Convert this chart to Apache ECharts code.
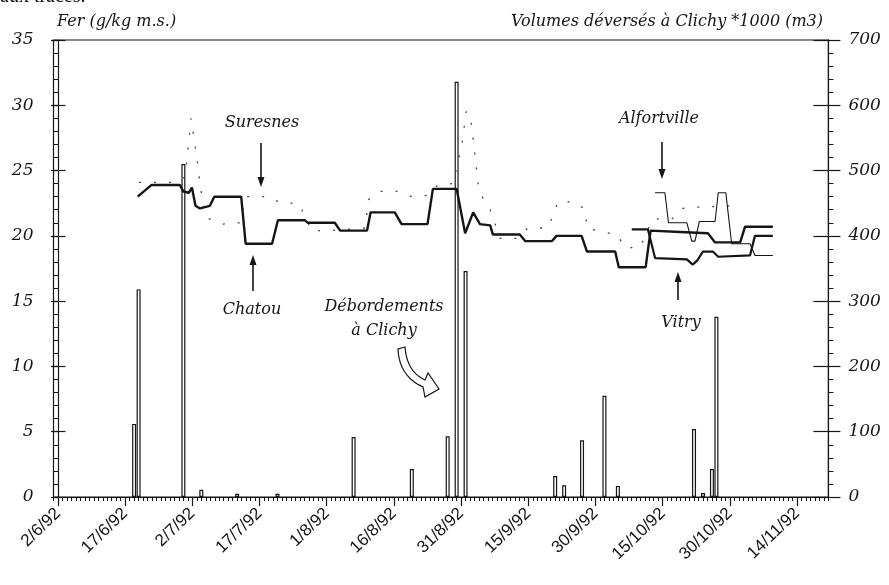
<!DOCTYPE html>
<html><head><meta charset="utf-8">
<script src="https://cdn.jsdelivr.net/npm/echarts@6/dist/echarts.min.js"></script>
<style>html,body{margin:0;padding:0;background:#fff}#c{width:889px;height:585px}</style>
</head><body><div id="c"></div><script>
// x values = days counted from 2/6/92
const dayMin = -1, dayMax = 172;
const tickLabels = ['2/6/92','17/6/92','2/7/92','17/7/92','1/8/92','16/8/92','31/8/92','15/9/92','30/9/92','15/10/92','30/10/92','14/11/92'];
const tickStep = 15;

// Volumes déversés à Clichy (*1000 m3)
const barDays    = [17, 18, 28, 32, 40, 49, 66, 79, 87, 89, 91, 111, 113, 117, 122, 125, 142, 144, 146, 147];
const barVolumes = [112,318,510, 11,  5,  5, 92, 43, 93,636,346,  32,  18,  87, 155,  17, 104,   6,  43, 276];

// Fer (g/kg m.s.)
const chatouDays = [17.8,20.9,27.2,28.0,29.2,29.9,30.7,31.7,33.9,34.9,40.9,41.9,47.8,49.1,55.1,55.8,61.8,63.0,69.0,69.8,75.2,76.7,82.5,83.7,89.0,90.9,92.7,94.2,96.5,97.1,103.1,104.3,110.3,111.3,116.9,118.1,124.4,125.2,131.2,132.3,138.9,145.1,146.7,152.3,153.4,159.6];
const chatouFer  = [23.0,23.9,23.9,23.4,23.3,23.7,22.3,22.1,22.3,23.0,23.0,19.4,19.4,21.2,21.2,21.0,21.0,20.4,20.4,21.8,21.8,20.9,20.9,23.6,23.6,20.2,21.8,20.9,20.8,20.1,20.1,19.6,19.6,20.0,20.0,18.8,18.8,17.6,17.6,20.4,20.3,20.2,19.5,19.5,20.7,20.7];

const vitryDays = [128.1,131.7,133.3,140.4,141.7,142.7,144.0,146.2,147.4,154.5,155.6,159.6];
const vitryFer  = [20.5,20.5,18.3,18.2,17.8,18.1,18.8,18.8,18.4,18.5,20.0,20.0];

const alfortDays = [133.3,135.5,136.3,140.4,141.5,142.2,143.2,146.7,147.4,149.1,150.4,154.5,155.6,159.6];
const alfortFer  = [23.3,23.3,21.0,21.0,19.6,19.6,21.1,21.1,23.3,23.3,19.4,19.4,18.5,18.5];

const suresnesDays = [18.1,26.1,28.4,29.7,31.0,31.9,33.0,36.8,40.6,42.0,47.1,49.8,53.6,55.4,56.5,60.3,68.5,69.4,71.9,75.7,79.0,82.6,84.8,88.2,90.2,91.1,92.0,92.9,93.8,94.7,96.4,98.7,102.5,104.9,109.2,110.5,111.6,115.4,117.7,118.1,121.5,124.8,126.6,129.9,132.8,137.1,139.3,142.7,150.5];
const suresnesFer  = [24.1,24.1,24.5,29.0,26.0,23.5,21.4,20.9,21.0,23.0,23.0,22.5,22.5,21.4,20.4,20.4,20.6,22.8,23.4,23.4,23.0,23.1,23.9,24.0,27.0,29.5,29.4,26.8,24.0,23.0,22.1,19.8,19.8,20.6,20.6,21.5,22.6,22.6,22.0,20.6,20.3,20.1,19.1,19.1,21.3,21.3,22.1,22.2,22.3];

const zip = (a, b) => a.map((v, i) => [v, b[i]]);
const cats = [];
for (let d = dayMin; d <= dayMax; d++) cats.push(String(d));
const isMajor = (i) => { const d = i + dayMin; return d >= 0 && d % tickStep === 0 && d / tickStep < tickLabels.length; };

const INK = '#151515';
const serif = '"DejaVu Serif"';
const axisLineStyle = { color: INK, width: 1.2 };

const chart = echarts.init(document.getElementById('c'), null, { renderer: 'canvas' });

function arrow(x, y1, y2) { // from y1 to tip y2
  const dir = y2 > y1 ? 1 : -1;
  return [
    { type: 'line', shape: { x1: x, y1: y1, x2: x, y2: y2 - dir * 8 }, style: { stroke: INK, lineWidth: 1.6 } },
    { type: 'polygon', shape: { points: [[x - 3.5, y2 - dir * 10], [x + 3.5, y2 - dir * 10], [x, y2]] }, style: { fill: INK } }
  ];
}
function label(text, x, y, size) {
  return { type: 'text', x: x, y: y, style: { text: text, font: 'italic ' + (size || 16) + 'px ' + serif, fill: INK, align: 'center', verticalAlign: 'middle', textAlign: 'center', textVerticalAlign: 'middle' } };
}
// hollow curved arrow outline (annotation)
function quad(p0, p1, p2, n) {
  const pts = [];
  for (let k = 0; k <= n; k++) {
    const t = k / n, u = 1 - t;
    pts.push([u * u * p0[0] + 2 * u * t * p1[0] + t * t * p2[0], u * u * p0[1] + 2 * u * t * p1[1] + t * t * p2[1]]);
  }
  return pts;
}
const curvedArrowPts = [
  ...quad([398, 349], [399, 376], [423, 387], 10),
  [425, 397], [439, 389], [428, 373],
  ...quad([425, 380], [407, 372], [405, 347], 10)
];

chart.setOption({
  animation: false,
  backgroundColor: '#fff',
  grid: { left: 53.5, right: 60.6, top: 40, bottom: 88, show: true, borderColor: INK, borderWidth: 1.2, backgroundColor: 'transparent' },
  xAxis: [
    { type: 'value', min: dayMin, max: dayMax, show: false },
    { type: 'category', data: cats, boundaryGap: false, position: 'bottom',
      axisLine: { show: true, lineStyle: axisLineStyle },
      axisTick: { show: true, interval: 0, length: 4, lineStyle: { color: INK, width: 1 } },
      axisLabel: { show: false }, splitLine: { show: false } },
    { type: 'category', data: cats, boundaryGap: false, position: 'bottom',
      axisLine: { show: false },
      axisTick: { show: true, interval: (i) => isMajor(i), length: 9, lineStyle: { color: INK, width: 1.2 } },
      axisLabel: { show: true, interval: (i) => isMajor(i), rotate: 44, margin: 14,
        formatter: (v) => { const d = Number(v); return (d >= 0 && d % tickStep === 0) ? (tickLabels[d / tickStep] || '') : ''; },
        fontFamily: '"Liberation Sans"', fontSize: 17, color: INK },
      splitLine: { show: false } }
  ],
  yAxis: [
    { type: 'value', position: 'left', min: 0, max: 35, interval: 5,
      axisLine: { show: true, lineStyle: axisLineStyle },
      axisTick: { show: true, length: 7, lineStyle: { color: INK, width: 1.2 } },
      minorTick: { show: true, splitNumber: 5, length: 5, lineStyle: { color: INK, width: 1 } },
      splitLine: { show: false }, minorSplitLine: { show: false },
      axisLabel: { margin: 20, fontFamily: serif, fontStyle: 'italic', fontSize: 17, color: INK } },
    { type: 'value', position: 'left', min: 0, max: 35, interval: 5,
      axisLine: { show: false }, axisTick: { show: true, inside: true, length: 12, lineStyle: { color: INK, width: 1.2 } },
      axisLabel: { show: false }, splitLine: { show: false } },
    { type: 'value', position: 'right', min: 0, max: 700, interval: 100,
      axisLine: { show: true, lineStyle: axisLineStyle },
      axisTick: { show: true, length: 12, lineStyle: { color: INK, width: 1.2 } },
      minorTick: { show: true, splitNumber: 5, length: 5, lineStyle: { color: INK, width: 1 } },
      splitLine: { show: false }, minorSplitLine: { show: false },
      axisLabel: { margin: 20, fontFamily: serif, fontStyle: 'italic', fontSize: 17, color: INK } },
    { type: 'value', position: 'right', min: 0, max: 700, interval: 100,
      axisLine: { show: false }, axisTick: { show: true, inside: true, length: 15, lineStyle: { color: INK, width: 1.2 } },
      axisLabel: { show: false }, splitLine: { show: false } }
  ],
  series: [
    { name: 'Volumes', type: 'bar', xAxisIndex: 0, yAxisIndex: 2, z: 1, barWidth: 4,
      data: zip(barDays, barVolumes),
      itemStyle: { color: '#fff', borderColor: INK, borderWidth: 1.2 } },
    { name: 'Suresnes', type: 'line', xAxisIndex: 0, yAxisIndex: 0, z: 3, showSymbol: false, symbol: 'none',
      data: zip(suresnesDays, suresnesFer), lineStyle: { color: '#444', width: 1.3, type: [2, 13] } },
    { name: 'Chatou', type: 'line', xAxisIndex: 0, yAxisIndex: 0, z: 4, showSymbol: false, symbol: 'none',
      data: zip(chatouDays, chatouFer), lineStyle: { color: INK, width: 2.4 } },
    { name: 'Vitry', type: 'line', xAxisIndex: 0, yAxisIndex: 0, z: 4, showSymbol: false, symbol: 'none',
      data: zip(vitryDays, vitryFer), lineStyle: { color: INK, width: 2.2 } },
    { name: 'Alfortville', type: 'line', xAxisIndex: 0, yAxisIndex: 0, z: 4, showSymbol: false, symbol: 'none',
      data: zip(alfortDays, alfortFer), lineStyle: { color: INK, width: 1.1 } }
  ],
  graphic: [
    { type: 'text', x: 0, y: 7, style: { text: 'aux traces.', font: '20px "Liberation Serif"', fill: INK, align: 'left', verticalAlign: 'bottom', textAlign: 'left', textVerticalAlign: 'bottom' } },
    { type: 'text', x: 57, y: 22, style: { text: 'Fer (g/kg m.s.)', font: 'italic 16px ' + serif, fill: INK, align: 'left', verticalAlign: 'middle', textAlign: 'left', textVerticalAlign: 'middle' } },
    { type: 'text', x: 823, y: 22, style: { text: 'Volumes déversés à Clichy *1000 (m3)', font: 'italic 16px ' + serif, fill: INK, align: 'right', verticalAlign: 'middle', textAlign: 'right', textVerticalAlign: 'middle' } },
    label('Suresnes', 262, 123),
    ...arrow(261, 143, 187),
    label('Chatou', 252, 310),
    ...arrow(253, 291, 255),
    label('Débordements', 384, 307),
    label('à Clichy', 384, 331),
    { type: 'polygon', shape: { points: curvedArrowPts }, style: { fill: '#fff', stroke: INK, lineWidth: 1.2 } },
    label('Alfortville', 659, 119),
    ...arrow(662, 142, 179),
    label('Vitry', 681, 323),
    ...arrow(678, 300, 272)
  ]
});
</script></body></html>
